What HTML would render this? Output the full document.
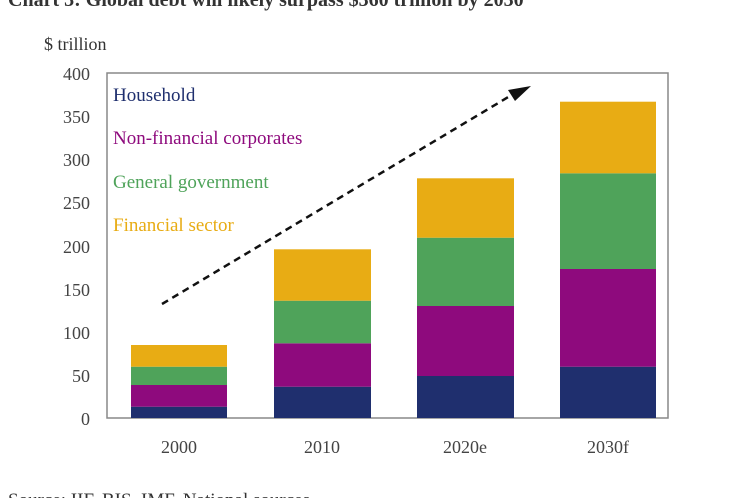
<!DOCTYPE html>
<html><head><meta charset="utf-8"><style>
body{margin:0;background:#fff;}
svg{display:block;font-family:"Liberation Serif",serif;}
</style></head><body>
<svg width="748" height="498" viewBox="0 0 748 498">
<text x="8" y="6" font-size="20" font-weight="bold" fill="#333">Chart 3: Global debt will likely surpass $360 trillion by 2030</text>
<text x="44" y="50" font-size="18" fill="#333">$ trillion</text>
<g font-size="18" fill="#444" text-anchor="end">
<text x="90" y="425">0</text><text x="90" y="382">50</text><text x="90" y="339">100</text>
<text x="90" y="296">150</text><text x="90" y="253">200</text><text x="90" y="209">250</text>
<text x="90" y="166">300</text><text x="90" y="123">350</text><text x="90" y="80">400</text>
</g>
<rect x="107" y="73" width="561" height="345" fill="none" stroke="#888" stroke-width="1.5"/>
<g>
<rect x="131" y="406.7" width="96" height="11.3" fill="#1f2f6e"/>
<rect x="131" y="385" width="96" height="21.7" fill="#8e0a7d"/>
<rect x="131" y="366.7" width="96" height="18.3" fill="#4fa35a"/>
<rect x="131" y="345" width="96" height="21.7" fill="#e8ac14"/>
<rect x="274" y="386.7" width="97" height="31.3" fill="#1f2f6e"/>
<rect x="274" y="343.3" width="97" height="43.4" fill="#8e0a7d"/>
<rect x="274" y="300.7" width="97" height="42.6" fill="#4fa35a"/>
<rect x="274" y="249.3" width="97" height="51.4" fill="#e8ac14"/>
<rect x="417" y="376" width="97" height="42" fill="#1f2f6e"/>
<rect x="417" y="306" width="97" height="70" fill="#8e0a7d"/>
<rect x="417" y="237.7" width="97" height="68.3" fill="#4fa35a"/>
<rect x="417" y="178.3" width="97" height="59.4" fill="#e8ac14"/>
<rect x="560" y="366.7" width="96" height="51.3" fill="#1f2f6e"/>
<rect x="560" y="269" width="96" height="97.7" fill="#8e0a7d"/>
<rect x="560" y="173.3" width="96" height="95.7" fill="#4fa35a"/>
<rect x="560" y="101.7" width="96" height="71.6" fill="#e8ac14"/>
</g>
<line x1="162" y1="304" x2="515" y2="93" stroke="#111" stroke-width="2.5" stroke-dasharray="7,5"/>
<polygon points="531,86 508,90 515,101" fill="#111"/>
<g font-size="19">
<text x="113" y="101" fill="#1f2f6e">Household</text>
<text x="113" y="144" fill="#8e0a7d">Non-financial corporates</text>
<text x="113" y="188" fill="#4fa35a">General government</text>
<text x="113" y="231" fill="#e8ac14">Financial sector</text>
</g>
<g font-size="18" fill="#444" text-anchor="middle">
<text x="179" y="453">2000</text><text x="322" y="453">2010</text>
<text x="465" y="453">2020e</text><text x="608" y="453">2030f</text>
</g>
<text x="8" y="506" font-size="19" fill="#333">Source: IIF, BIS, IMF, National sources</text>
</svg>
</body></html>
